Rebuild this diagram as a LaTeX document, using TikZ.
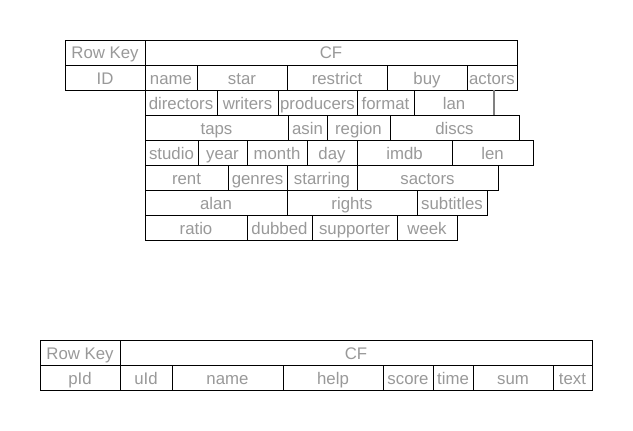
\documentclass[tikz,border=0pt]{standalone}
\usepackage{fontspec}
\setmainfont{Liberation Sans}
\usetikzlibrary{positioning}

\definecolor{cellgray}{HTML}{999999}
\definecolor{sepgray}{HTML}{808080}

\begin{document}
\begin{tikzpicture}[
  x=1pt, y=-1pt,
  cell/.style={
     rectangle,
     draw=black,
     line width=1pt,
     inner sep=0pt,
     outer sep=0pt,
     minimum height=25pt,
     text height=13pt,
     text depth=0pt,
     text=cellgray,
     font=\fontsize{16.8}{18}\selectfont},
  w/.style={minimum width=#1pt},
  sepline/.style={draw=sepgray, line width=2pt},
  node distance=0pt
  ]
  \useasboundingbox[fill=white] (0,0) rectangle (633,431);

  % first table: header
  \node[cell, w=80, anchor=north west] (rk) at (65,40) {Row Key};
  \node[cell, w=372, right=of rk] (cf) {CF};

  % row 2
  \node[cell, w=80, below=of rk] (id) {ID};
  \node[cell, w=52, right=of id] (name) {name};
  \node[cell, w=90, right=of name] (star) {star};
  \node[cell, w=100, right=of star] (restrict) {restrict};
  \node[cell, w=80, right=of restrict] (buy) {buy};
  \node[cell, w=50, right=of buy] (actors) {actors};

  % row 3
  \node[cell, w=72, anchor=north west] (directors) at (name.south west) {directors};
  \node[cell, w=61, right=of directors] (writers) {writers};
  \node[cell, w=79, right=of writers] (producers) {producers};
  \node[cell, w=57, right=of producers] (format) {format};
  \node[cell, w=80, right=of format] (lan) {lan};
  \draw[sepline] (lan.north east) -- (lan.south east);

  % row 4
  \node[cell, w=143, anchor=north west] (taps) at (directors.south west) {taps};
  \node[cell, w=39, right=of taps] (asin) {asin};
  \node[cell, w=63, right=of asin] (region) {region};
  \node[cell, w=129, right=of region] (discs) {discs};

  % row 5
  \node[cell, w=53, anchor=north west] (studio) at (taps.south west) {studio};
  \node[cell, w=49, right=of studio] (year) {year};
  \node[cell, w=60, right=of year] (month) {month};
  \node[cell, w=50, right=of month] (day) {day};
  \node[cell, w=95, right=of day] (imdb) {imdb};
  \node[cell, w=81, right=of imdb] (len) {len};

  % row 6
  \node[cell, w=83, anchor=north west] (rent) at (studio.south west) {rent};
  \node[cell, w=59, right=of rent] (genres) {genres};
  \node[cell, w=70, right=of genres] (starring) {starring};
  \node[cell, w=141, right=of starring] (sactors) {sactors};

  % row 7
  \node[cell, w=142, anchor=north west] (alan) at (rent.south west) {alan};
  \node[cell, w=130, right=of alan] (rights) {rights};
  \node[cell, w=70, right=of rights] (subtitles) {subtitles};

  % row 8
  \node[cell, w=102, anchor=north west] (ratio) at (alan.south west) {ratio};
  \node[cell, w=65, right=of ratio] (dubbed) {dubbed};
  \node[cell, w=85, right=of dubbed] (supporter) {supporter};
  \node[cell, w=60, right=of supporter] (week) {week};

  % second table
  \node[cell, w=80, anchor=north west] (rkb) at (40,340) {Row Key};
  \node[cell, w=472, right=of rkb] (cfb) {CF};

  \node[cell, w=80, below=of rkb] (pid) {pId};
  \node[cell, w=52, right=of pid] (uid) {uId};
  \node[cell, w=111, right=of uid] (nameb) {name};
  \node[cell, w=100, right=of nameb] (help) {help};
  \node[cell, w=50, right=of help] (score) {score};
  \node[cell, w=40, right=of score] (time) {time};
  \node[cell, w=80, right=of time] (sum) {sum};
  \node[cell, w=39, right=of sum] (text) {text};

\end{tikzpicture}
\end{document}
